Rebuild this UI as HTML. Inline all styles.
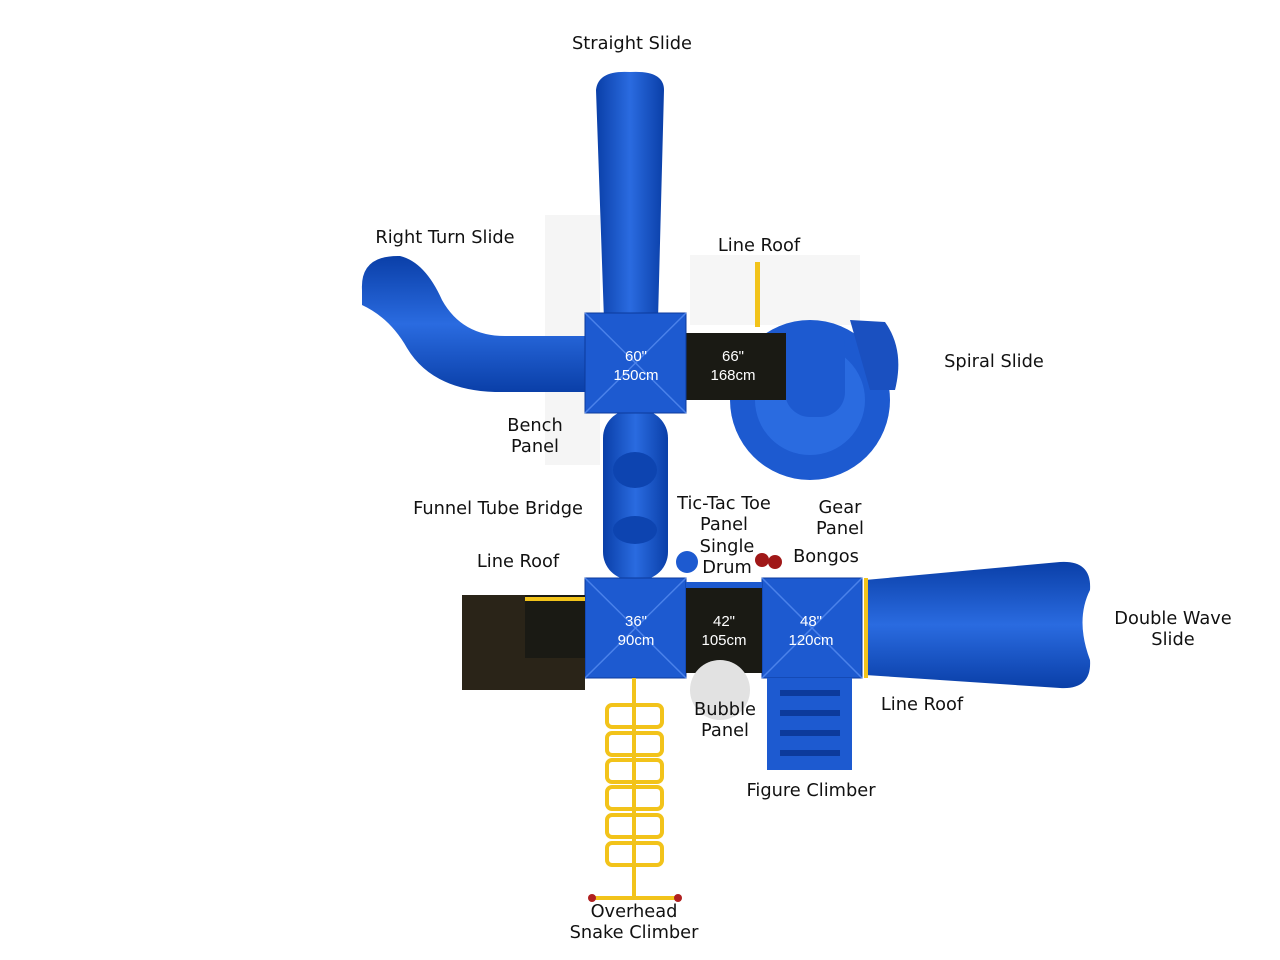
<!DOCTYPE html>
<html><head><meta charset="utf-8"><style>
html,body{margin:0;padding:0;background:#fff}
body{width:1280px;height:960px;position:relative;overflow:hidden;font-family:"DejaVu Sans","Liberation Sans",sans-serif}
.l{position:absolute;font-size:17.8px;color:#111;text-align:center;line-height:21px;white-space:nowrap;transform:translateX(-50%)}
.w{position:absolute;font-size:15px;color:#fff;text-align:center;line-height:19px;font-family:"Liberation Sans",sans-serif;transform:translateX(-50%)}
</style></head><body>
<svg width="1280" height="960" style="position:absolute;left:0;top:0">
<defs>
<linearGradient id="bv" x1="0" x2="1"><stop offset="0" stop-color="#0a3fa8"/><stop offset=".5" stop-color="#2a6be0"/><stop offset="1" stop-color="#0a3fa8"/></linearGradient>
<linearGradient id="bh" x1="0" x2="0" y1="0" y2="1"><stop offset="0" stop-color="#0a3fa8"/><stop offset=".5" stop-color="#2a6be0"/><stop offset="1" stop-color="#0a3fa8"/></linearGradient>
</defs>
<rect x="545" y="215" width="55" height="250" fill="#f5f5f5"/>
<rect x="690" y="255" width="170" height="70" fill="#f6f6f6"/>
<path d="M596 90 Q598 70 630 72 Q664 70 664 90 L658 320 L604 320 Z" fill="url(#bv)"/>
<path d="M362 290 Q360 255 400 256 Q425 262 442 300 Q462 336 505 336 L590 336 L590 392 L495 392 Q432 390 407 348 Q390 318 362 305 Z" fill="url(#bh)"/>
<circle cx="810" cy="400" r="80" fill="#1d5ad0"/>
<circle cx="810" cy="400" r="55" fill="#2a6be0"/>
<path d="M850 320 L885 322 Q905 350 895 390 L870 390 Z" fill="#1a50c0"/>
<rect x="785" y="322" width="60" height="95" rx="25" fill="#1d5ad0"/>
<rect x="686" y="333" width="100" height="67" fill="#1a1a14"/>
<rect x="755" y="262" width="5" height="65" fill="#f2c31a"/>
<rect x="603" y="410" width="65" height="170" rx="28" fill="url(#bv)"/>
<ellipse cx="635" cy="470" rx="22" ry="18" fill="#0d44b0"/>
<ellipse cx="635" cy="530" rx="22" ry="14" fill="#0d44b0"/>
<g fill="#1d5ad0" stroke="#0c3a9c" stroke-width="1">
<rect x="585" y="313" width="101" height="100"/>
<rect x="585" y="578" width="101" height="100"/>
<rect x="762" y="578" width="100" height="100"/>
</g>
<g stroke="#4b82ea" stroke-width="1.5">
<line x1="585" y1="313" x2="686" y2="413"/><line x1="686" y1="313" x2="585" y2="413"/>
<line x1="585" y1="578" x2="686" y2="678"/><line x1="686" y1="578" x2="585" y2="678"/>
<line x1="762" y1="578" x2="862" y2="678"/><line x1="862" y1="578" x2="762" y2="678"/>
</g>
<rect x="686" y="583" width="76" height="90" fill="#1a1a14"/>
<rect x="686" y="582" width="76" height="6" fill="#1d5ad0"/>
<circle cx="720" cy="690" r="30" fill="#e2e2e2"/>
<circle cx="687" cy="562" r="11" fill="#1d5ad0"/>
<circle cx="762" cy="560" r="7" fill="#a01818"/><circle cx="775" cy="562" r="7" fill="#a01818"/>
<rect x="462" y="595" width="123" height="95" fill="#2a2418"/>
<rect x="525" y="595" width="60" height="63" fill="#1a1a14"/>
<rect x="525" y="597" width="60" height="4" fill="#f2c31a"/>
<path d="M865 580 L1060 562 Q1092 560 1090 590 Q1075 620 1090 660 Q1092 690 1060 688 L865 675 Z" fill="url(#bh)"/>
<rect x="864" y="578" width="4" height="100" fill="#f2c31a"/>
<rect x="767" y="678" width="85" height="92" fill="#1d5ad0"/>
<g fill="#0c3a9c"><rect x="780" y="690" width="60" height="6"/><rect x="780" y="710" width="60" height="6"/><rect x="780" y="730" width="60" height="6"/><rect x="780" y="750" width="60" height="6"/></g>
<g fill="none" stroke="#f2c31a" stroke-width="4">
<line x1="634" y1="678" x2="634" y2="900"/>
<rect x="607" y="705" width="55" height="22" rx="5"/>
<rect x="607" y="733" width="55" height="22" rx="5"/>
<rect x="607" y="760" width="55" height="22" rx="5"/>
<rect x="607" y="787" width="55" height="22" rx="5"/>
<rect x="607" y="815" width="55" height="22" rx="5"/>
<rect x="607" y="843" width="55" height="22" rx="5"/>
<line x1="590" y1="898" x2="680" y2="898"/>
</g>
<circle cx="592" cy="898" r="4" fill="#b02020"/><circle cx="678" cy="898" r="4" fill="#b02020"/>
</svg>
<div class="l" style="left:632px;top:33px">Straight Slide</div>
<div class="l" style="left:445px;top:227px">Right Turn Slide</div>
<div class="l" style="left:759px;top:235px">Line Roof</div>
<div class="l" style="left:994px;top:351px">Spiral Slide</div>
<div class="l" style="left:535px;top:415px">Bench<br>Panel</div>
<div class="l" style="left:498px;top:498px">Funnel Tube Bridge</div>
<div class="l" style="left:724px;top:493px">Tic-Tac Toe<br>Panel</div>
<div class="l" style="left:840px;top:497px">Gear<br>Panel</div>
<div class="l" style="left:727px;top:536px">Single<br>Drum</div>
<div class="l" style="left:826px;top:546px">Bongos</div>
<div class="l" style="left:518px;top:551px">Line Roof</div>
<div class="l" style="left:1173px;top:608px">Double Wave<br>Slide</div>
<div class="l" style="left:922px;top:694px">Line Roof</div>
<div class="l" style="left:725px;top:699px">Bubble<br>Panel</div>
<div class="l" style="left:811px;top:780px">Figure Climber</div>
<div class="l" style="left:634px;top:901px">Overhead<br>Snake Climber</div>
<div class="w" style="left:636px;top:347px">60"<br>150cm</div>
<div class="w" style="left:733px;top:347px">66"<br>168cm</div>
<div class="w" style="left:636px;top:612px">36"<br>90cm</div>
<div class="w" style="left:724px;top:612px">42"<br>105cm</div>
<div class="w" style="left:811px;top:612px">48"<br>120cm</div>
</body></html>
